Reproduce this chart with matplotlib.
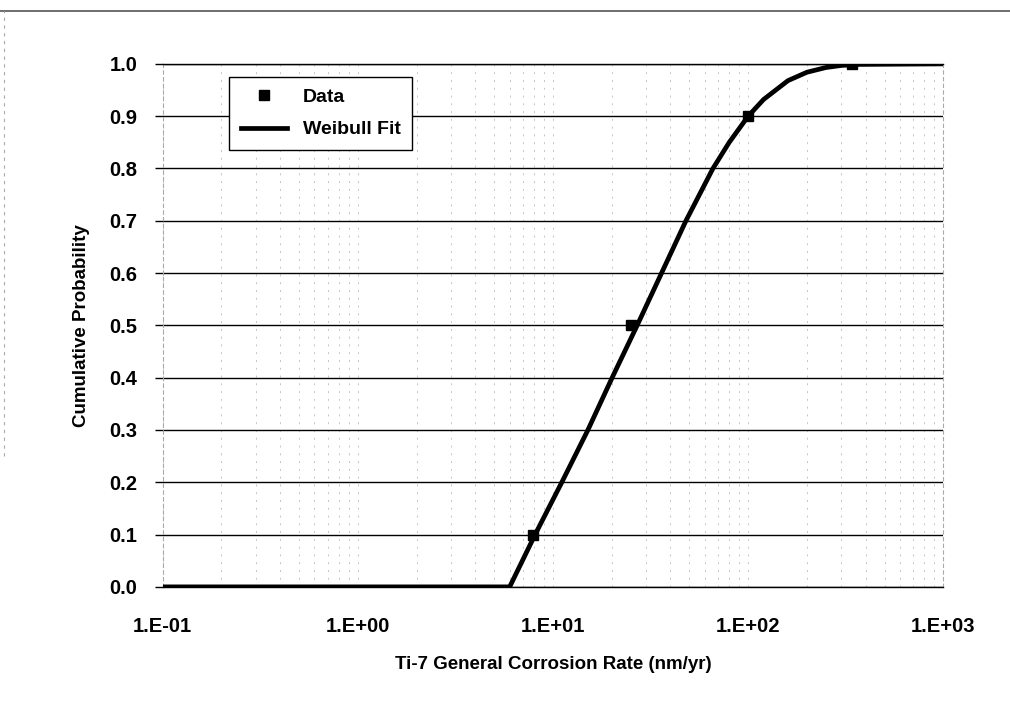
import matplotlib
matplotlib.use("Agg")
import matplotlib.pyplot as plt
from matplotlib.ticker import FixedLocator, NullFormatter, LogLocator

plt.rcParams['font.family'] = ['Liberation Sans', 'DejaVu Sans']
plt.rcParams['font.weight'] = 'bold'

## data points
data_x = [7.9, 25, 100, 340]
data_y = [0.1, 0.5, 0.9, 1.0]

## Weibull fit curve
fit_x = [0.1, 0.5, 1.0, 3.0, 6.0, 8.1, 11.1, 15.1, 20.1, 27.0, 36.0,
         48.0, 66.0, 80.0, 100.0, 120.0, 160.0, 200.0, 250.0, 300.0, 370.0, 1000.0]
fit_y = [0.0, 0.0, 0.0, 0.0, 0.0, 0.1, 0.2, 0.3, 0.4, 0.5, 0.6,
         0.7, 0.8, 0.85, 0.9, 0.932, 0.968, 0.984, 0.993, 0.997, 0.999, 1.0]

x_ticks = [0.1, 1, 10, 100, 1000]
x_labels = ['1.E-01', '1.E+00', '1.E+01', '1.E+02', '1.E+03']
y_ticks = [0.0, 0.1, 0.2, 0.3, 0.4, 0.5, 0.6, 0.7, 0.8, 0.9, 1.0]

fig = plt.figure(figsize=(10.10, 7.02), dpi=100)
ax = fig.add_axes([0.161, 0.164, 0.773, 0.745])

# chart area border (top line + faint left edge)
fig.add_artist(plt.Line2D([0.0, 1.0], [0.985, 0.985], color='#555555', lw=1.2))
fig.add_artist(plt.Line2D([0.004, 0.004], [0.35, 0.985], color='#aaaaaa', lw=0.8, ls=(0, (3, 4))))

ax.set_xscale('log')
ax.set_xlim(0.1, 1000)
ax.set_ylim(0, 1.0)

# gridlines: solid horizontal, faint dashed vertical
ax.xaxis.set_major_locator(FixedLocator(x_ticks))
ax.xaxis.set_minor_locator(LogLocator(base=10, subs=range(2, 10)))
ax.xaxis.set_minor_formatter(NullFormatter())
ax.set_xticklabels(x_labels)
ax.set_yticks(y_ticks)
ax.set_yticklabels([f'{v:.1f}' for v in y_ticks])
ax.grid(axis='y', which='major', color='black', lw=1.0)
ax.grid(axis='x', which='both', color='#c4c4c4', lw=0.7, ls=(0, (2, 6)))
ax.set_axisbelow(True)

for side in ['left', 'right']:
    ax.spines[side].set_color('#aaaaaa')
    ax.spines[side].set_linestyle((0, (3, 3)))
    ax.spines[side].set_linewidth(0.8)
for side in ['top', 'bottom']:
    ax.spines[side].set_color('black')
    ax.spines[side].set_linewidth(1.0)

ax.tick_params(axis='x', which='both', length=0, pad=22, labelsize=14.5)
ax.tick_params(axis='y', which='major', length=6, width=1, direction='out', pad=12, labelsize=14.5)

ax.plot(fit_x, fit_y, color='black', lw=3.4, label='Weibull Fit', zorder=3)
ax.plot(data_x, data_y, ls='none', marker='s', ms=7, color='black', label='Data', zorder=4)

ax.set_xlabel('Ti-7 General Corrosion Rate (nm/yr)', fontsize=13.5, fontweight='bold', labelpad=14)
ax.set_ylabel('Cumulative Probability', fontsize=13.5, fontweight='bold', labelpad=14)

handles, labels = ax.get_legend_handles_labels()
leg = ax.legend(handles[::-1], labels[::-1], loc='upper left', bbox_to_anchor=(0.085, 0.975),
                borderaxespad=0, frameon=True, fancybox=False, edgecolor='black', framealpha=1,
                prop={'size': 14, 'weight': 'bold'}, handlelength=2.4, borderpad=0.6,
                labelspacing=0.75)
leg.get_frame().set_linewidth(1.0)

fig.savefig('out.png', dpi=100)
